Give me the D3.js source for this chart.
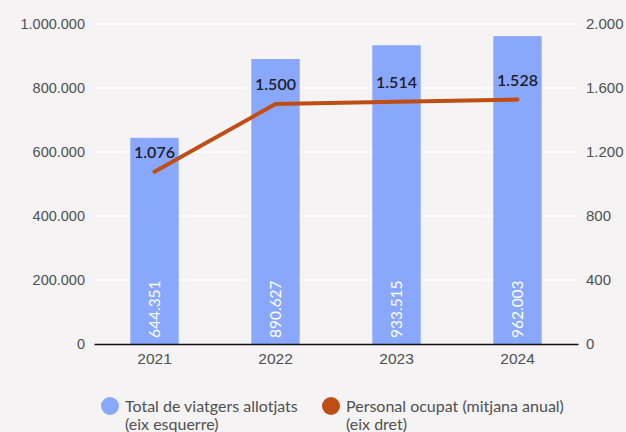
<!DOCTYPE html>
<html>
<head>
<meta charset="utf-8">
<script src="https://d3js.org/d3.v7.min.js"></script>
<style>
body { margin: 0; background: #f5f3f4; }
svg { display: block; font-family: "Lato", "Noto Sans", sans-serif; }
</style>
</head>
<body>
<div id="chart"></div>
<script>
// chart data
var years = ["2021", "2022", "2023", "2024"];
var viatgers = [644351, 890627, 933515, 962003];
var personal = [1076, 1500, 1514, 1528];
var leftTicks = [0, 200000, 400000, 600000, 800000, 1000000];
var rightTicks = [0, 400, 800, 1200, 1600, 2000];
var legendLabels = [["Total de viatgers allotjats", "(eix esquerre)"], ["Personal ocupat (mitjana anual)", "(eix dret)"]];

var width = 626, height = 432;
var margin = {top: 24, right: 48, bottom: 88, left: 94};

var svg = d3.select("#chart").append("svg")
    .attr("width", width)
    .attr("height", height);

svg.append("rect").attr("width", width).attr("height", height).attr("fill", "#f5f3f4");

var fmt = d3.formatLocale({decimal: ",", thousands: ".", grouping: [3], currency: ["", "€"]}).format(",d");

var x = d3.scaleBand().domain(years)
    .range([margin.left, width - margin.right])
    .paddingInner(0.6).paddingOuter(0.3);
var yL = d3.scaleLinear().domain([0, 1000000]).range([height - margin.bottom, margin.top]);
var yR = d3.scaleLinear().domain([0, 2000]).range([height - margin.bottom, margin.top]);

// grid
svg.append("g").selectAll("line").data(leftTicks.slice(1)).enter().append("line")
    .attr("x1", margin.left).attr("x2", width - margin.right)
    .attr("y1", d => yL(d)).attr("y2", d => yL(d))
    .attr("stroke", "#ffffff").attr("stroke-width", 1.5);

// left axis
var axL = svg.append("g").attr("transform", "translate(" + margin.left + ",0)")
    .call(d3.axisLeft(yL).tickValues(leftTicks).tickFormat(fmt).tickSize(0).tickPadding(9));
axL.select(".domain").remove();
axL.selectAll("text").attr("fill", "#505050").style("font-size", "14.5px");

// right axis
var axR = svg.append("g").attr("transform", "translate(" + (width - margin.right) + ",0)")
    .call(d3.axisRight(yR).tickValues(rightTicks).tickFormat(fmt).tickSize(0).tickPadding(8));
axR.select(".domain").remove();
axR.selectAll("text").attr("fill", "#505050").style("font-size", "15px");

// bars
svg.append("g").selectAll("rect").data(viatgers).enter().append("rect")
    .attr("x", (d, i) => x(years[i]))
    .attr("y", d => yL(d))
    .attr("width", x.bandwidth())
    .attr("height", d => yL(0) - yL(d))
    .attr("fill", "#8aa8fb");

svg.append("g").selectAll("text").data(viatgers).enter().append("text")
    .attr("transform", (d, i) => "translate(" + (x(years[i]) + x.bandwidth() / 2 + 5.5) + "," + (yL(0) - 6) + ") rotate(-90)")
    .attr("fill", "#ffffff")
    .style("font-size", "15.5px")
    .text(d => fmt(d));

// bottom axis
var axB = svg.append("g").attr("transform", "translate(0," + yL(0) + ")")
    .call(d3.axisBottom(x).tickSize(0).tickPadding(9));
axB.select(".domain").attr("stroke", "#111").attr("stroke-width", 1.5);
axB.selectAll("text").attr("fill", "#505050").style("font-size", "15.5px");

// line
var line = d3.line()
    .x((d, i) => x(years[i]) + x.bandwidth() / 2)
    .y(d => yR(d));
svg.append("path").datum(personal)
    .attr("d", line)
    .attr("fill", "none")
    .attr("stroke", "#bf4e14")
    .attr("stroke-width", 4)
    .attr("stroke-linecap", "round")
    .attr("stroke-linejoin", "round");

svg.append("g").selectAll("text").data(personal).enter().append("text")
    .attr("x", (d, i) => x(years[i]) + x.bandwidth() / 2)
    .attr("y", d => yR(d) - 14)
    .attr("text-anchor", "middle")
    .attr("fill", "#1d1d2b")
    .style("font-size", "16px")
    .style("font-weight", "600")
    .text(d => fmt(d));

// legend
var legColors = ["#8aa8fb", "#bf4e14"];
var legX = [110, 331];
var leg = svg.append("g").selectAll("g").data(legendLabels).enter().append("g")
    .attr("transform", (d, i) => "translate(" + legX[i] + ",406)");
leg.append("circle").attr("r", 9).attr("fill", (d, i) => legColors[i]);
leg.append("text").attr("x", 15).attr("y", 5.5)
    .attr("fill", "#505050").style("font-size", "16px")
    .text(d => d[0]);
leg.append("text").attr("x", 15).attr("y", 24)
    .attr("fill", "#505050").style("font-size", "16px")
    .text(d => d[1]);
</script>
</body>
</html>
